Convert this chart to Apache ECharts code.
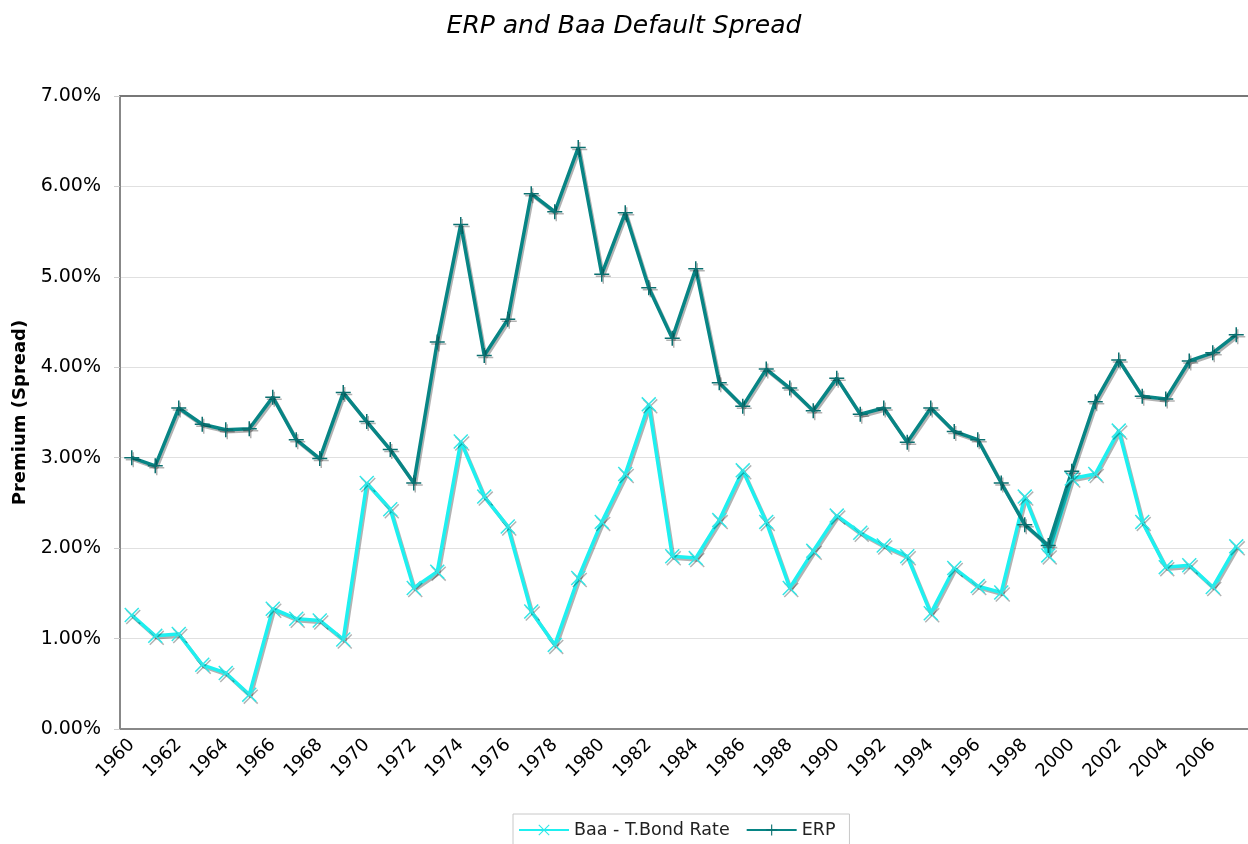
<!DOCTYPE html>
<html>
<head>
<meta charset="UTF-8">
<title>ERP and Baa Default Spread</title>
<script src="https://cdn.jsdelivr.net/npm/echarts@6/dist/echarts.min.js"></script>
<style>
  html, body { margin: 0; padding: 0; background: #fff; }
  #main { width: 1248px; height: 844px; }
</style>
</head>
<body>
<div id="main"></div>
<script type="text/javascript">
// years 1960 - 2007
var years = [];
for (var y = 1960; y <= 2007; y++) years.push(String(y));

// Baa - T.Bond spread (%)
var baaSpread = [1.26, 1.03, 1.05, 0.71, 0.62, 0.38, 1.33, 1.22, 1.20, 0.99,
                 2.72, 2.43, 1.56, 1.74, 3.18, 2.57, 2.24, 1.30, 0.93, 1.67,
                 2.29, 2.82, 3.59, 1.91, 1.89, 2.31, 2.86, 2.29, 1.56, 1.97,
                 2.36, 2.17, 2.03, 1.91, 1.28, 1.78, 1.58, 1.51, 2.57, 1.92,
                 2.77, 2.82, 3.30, 2.29, 1.79, 1.81, 1.57, 2.02];

// implied equity risk premium (%)
var erp = [3.00, 2.91, 3.55, 3.37, 3.31, 3.32, 3.67, 3.20, 2.99, 3.72,
           3.40, 3.09, 2.72, 4.28, 5.58, 4.13, 4.53, 5.92, 5.72, 6.43,
           5.03, 5.71, 4.88, 4.32, 5.09, 3.83, 3.57, 3.98, 3.77, 3.52,
           3.88, 3.48, 3.55, 3.17, 3.55, 3.29, 3.20, 2.72, 2.26, 2.03,
           2.85, 3.62, 4.08, 3.68, 3.65, 4.07, 4.16, 4.36];

var plusSym = 'path://M0,9 L20,9 L20,11 L0,11 Z M9,0 L11,0 L11,20 L9,20 Z';
var crossSym = 'path://M0,1.4 L1.4,0 L10,8.6 L18.6,0 L20,1.4 L11.4,10 L20,18.6 L18.6,20 L10,11.4 L1.4,20 L0,18.6 L8.6,10 Z';

var myChart = echarts.init(document.getElementById('main'));

var option = {
    animation: false,
    textStyle: { fontFamily: 'DejaVu Sans' },
    title: {
        text: 'ERP and Baa Default Spread',
        left: 'center',
        top: 9,
        textStyle: { fontSize: 25, fontStyle: 'italic', fontWeight: 'normal', color: '#000' }
    },
    legend: {
        bottom: -4,
        left: 513,
        itemWidth: 50,
        itemHeight: 14,
        itemGap: 16,
        padding: [7, 14, 9, 5],
        borderColor: '#c8c8c8',
        borderWidth: 1,
        textStyle: { fontSize: 17.5, color: '#222' },
        data: ['Baa - T.Bond Rate', 'ERP']
    },
    grid: {
        left: 120,
        right: 0,
        top: 96,
        bottom: 115
    },
    xAxis: [
        {
            type: 'category',
            data: years,
            boundaryGap: true,
            axisLine: { lineStyle: { color: '#888', width: 2 } },
            axisTick: { interval: 0, length: 6, lineStyle: { color: '#ccc' } },
            axisLabel: { interval: 1, rotate: 45, fontSize: 18, color: '#000', margin: 13 }
        },
        {
            // top frame line only
            type: 'category',
            data: years,
            position: 'top',
            axisLine: { show: true, lineStyle: { color: '#777', width: 2 } },
            axisTick: { show: false },
            axisLabel: { show: false }
        }
    ],
    yAxis: {
        type: 'value',
        min: 0,
        max: 7,
        interval: 1,
        name: 'Premium (Spread)',
        nameLocation: 'middle',
        nameGap: 84,
        nameTextStyle: { fontSize: 18, fontWeight: 'bold', color: '#000' },
        axisLine: { show: true, lineStyle: { color: '#888', width: 2 } },
        axisTick: { show: true, length: 6, lineStyle: { color: '#ccc' } },
        axisLabel: {
            fontSize: 19, color: '#000', margin: 19,
            formatter: function (v) { return v.toFixed(2) + '%'; }
        },
        splitLine: { lineStyle: { color: '#e0e0e0' } }
    },
    series: [
        {
            name: 'Baa - T.Bond Rate',
            type: 'line',
            data: baaSpread,
            symbol: crossSym,
            symbolSize: 15,
            lineStyle: { color: '#1ef0f0', width: 3.5, shadowColor: 'rgba(0,0,0,0.3)', shadowOffsetX: 1.5, shadowOffsetY: 2 },
            itemStyle: { color: '#33e6e6', shadowColor: 'rgba(0,0,0,0.3)', shadowOffsetX: 1.5, shadowOffsetY: 2 }
        },
        {
            name: 'ERP',
            type: 'line',
            data: erp,
            symbol: plusSym,
            symbolSize: 15,
            lineStyle: { color: '#078585', width: 3.5, shadowColor: 'rgba(0,0,0,0.3)', shadowOffsetX: 1.5, shadowOffsetY: 2 },
            itemStyle: { color: '#0b6f6f', shadowColor: 'rgba(0,0,0,0.3)', shadowOffsetX: 1.5, shadowOffsetY: 2 }
        }
    ]
};

myChart.setOption(option);
</script>
</body>
</html>
